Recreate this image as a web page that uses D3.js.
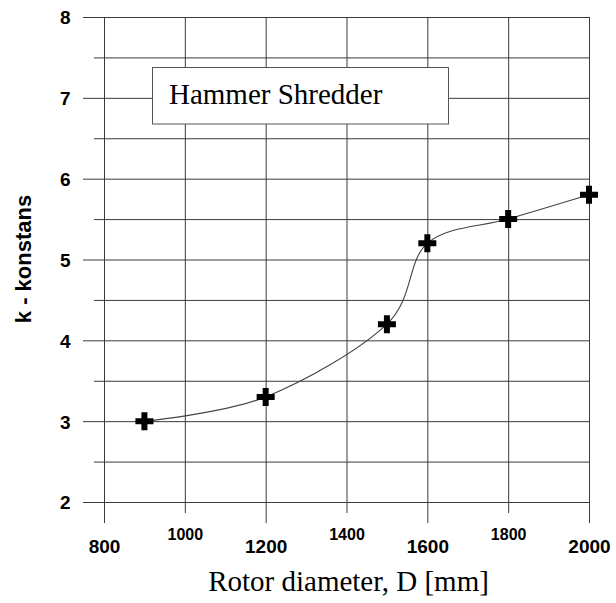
<!DOCTYPE html>
<html>
<head>
<meta charset="utf-8">
<script src="https://cdn.jsdelivr.net/npm/d3@7"></script>
<style>
  html, body { margin: 0; padding: 0; background: #fff; }
  svg { display: block; }
</style>
</head>
<body>
<svg id="chart" width="616" height="603"></svg>
<script>
// ---- data ----
const diameters = [900, 1200, 1500, 1600, 1800, 2000];
const kValues   = [3.0, 3.3, 4.2, 5.2, 5.5, 5.8];
const xMajorTicks = [800, 1200, 1600, 2000];
const xMinorTicks = [1000, 1400, 1800];
const yMajorTicks = [2, 3, 4, 5, 6, 7, 8];
const yMinorTicks = [2.5, 3.5, 4.5, 5.5, 6.5, 7.5];
const legendLabel = "Hammer Shredder";
const xTitle = "Rotor diameter, D [mm]";
const yTitle = "k - konstans";

// ---- layout ----
const svg = d3.select("#chart");
const L = 104, R = 589, T = 17, B = 502;
const x = d3.scaleLinear().domain([800, 2000]).range([L, R]);
const y = d3.scaleLinear().domain([2, 8]).range([B, T]);
const gridColor = "#3a3a3a";

// horizontal grid (major extend 21px left, minor 10px)
const yMaj = svg.append("g").attr("transform", `translate(${L},0)`)
  .call(d3.axisLeft(y).tickValues(yMajorTicks).tickSizeOuter(0).tickFormat(d3.format("d")));
yMaj.select(".domain").remove();
yMaj.selectAll(".tick line").attr("x1", -21).attr("x2", R - L).attr("stroke", gridColor);
yMaj.selectAll(".tick text")
  .attr("x", -33.5).attr("dy", "0.36em")
  .attr("font-family", "Liberation Sans, Arial, sans-serif")
  .attr("font-weight", "bold").attr("font-size", 19).attr("fill", "#000");

const yMin = svg.append("g").attr("transform", `translate(${L},0)`)
  .call(d3.axisLeft(y).tickValues(yMinorTicks).tickSizeOuter(0).tickFormat(""));
yMin.select(".domain").remove();
yMin.selectAll(".tick line").attr("x1", -10).attr("x2", R - L).attr("stroke", gridColor);

// vertical grid (major extend 21px below, minor 11px)
const xMaj = svg.append("g").attr("transform", `translate(0,${B})`)
  .call(d3.axisBottom(x).tickValues(xMajorTicks).tickSizeOuter(0).tickFormat(d3.format("d")));
xMaj.select(".domain").remove();
xMaj.selectAll(".tick line").attr("y1", -(B - T)).attr("y2", 21).attr("stroke", gridColor);
xMaj.selectAll(".tick text")
  .attr("y", 50.5).attr("dy", 0)
  .attr("font-family", "Liberation Sans, Arial, sans-serif")
  .attr("font-weight", "bold").attr("font-size", 19).attr("fill", "#000");

const xMin = svg.append("g").attr("transform", `translate(0,${B})`)
  .call(d3.axisBottom(x).tickValues(xMinorTicks).tickSizeOuter(0).tickFormat(d3.format("d")));
xMin.select(".domain").remove();
xMin.selectAll(".tick line").attr("y1", -(B - T)).attr("y2", 11).attr("stroke", gridColor);
xMin.selectAll(".tick text")
  .attr("y", 38).attr("dy", 0)
  .attr("font-family", "Liberation Sans, Arial, sans-serif")
  .attr("font-weight", "bold").attr("font-size", 16).attr("fill", "#000");

// legend box
const lg = svg.append("g");
lg.append("rect").attr("x", 152.5).attr("y", 67.5).attr("width", 296).attr("height", 56.5)
  .attr("fill", "#fff").attr("stroke", "#555").attr("stroke-width", 1);
lg.append("text").attr("x", 169).attr("y", 104)
  .attr("font-family", "Liberation Serif, Times New Roman, serif")
  .attr("font-size", 29).attr("fill", "#000").text(legendLabel);

// curve
const pts = diameters.map((d, i) => [d, kValues[i]]);
const line = d3.line().x(d => x(d[0])).y(d => y(d[1])).curve(d3.curveCardinal.tension(0));
svg.append("path").datum(pts).attr("d", line)
  .attr("fill", "none").attr("stroke", "#444").attr("stroke-width", 1.1);

// markers
svg.append("g").selectAll("path").data(pts).join("path")
  .attr("transform", d => `translate(${x(d[0])},${y(d[1])})`)
  .attr("d", d3.symbol(d3.symbolCross, 180))
  .attr("fill", "#000");

// titles
svg.append("text").attr("x", (L + R) / 2 + 2).attr("y", 591)
  .attr("text-anchor", "middle")
  .attr("font-family", "Liberation Serif, Times New Roman, serif")
  .attr("font-size", 29).attr("fill", "#000").text(xTitle);

svg.append("text").attr("transform", "translate(31,259) rotate(-90)")
  .attr("text-anchor", "middle")
  .attr("font-family", "Liberation Sans, Arial, sans-serif")
  .attr("font-weight", "bold").attr("font-size", 22).attr("fill", "#000").text(yTitle);
</script>
</body>
</html>
